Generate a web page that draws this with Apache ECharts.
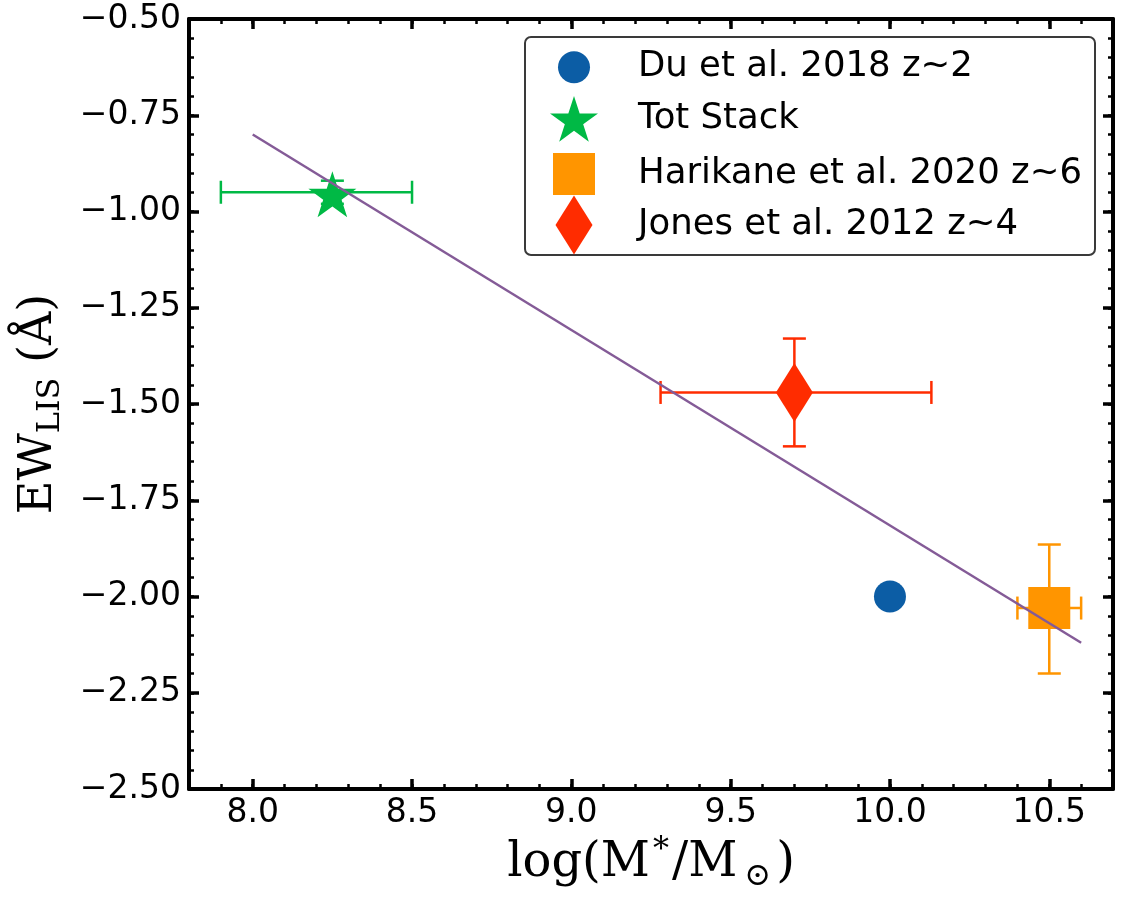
<!DOCTYPE html>
<html><head><meta charset="utf-8">
<script src="https://cdn.jsdelivr.net/npm/echarts@6/dist/echarts.min.js"></script>
<style>html,body{margin:0;padding:0;background:#fff}#c{width:1126px;height:898px}</style>
</head><body><div id="c"></div>
<script>
// ---- data ----
const duX=[10.0], duY=[-2.0];
const totX=[8.25], totY=[-0.95], totXLo=[7.90], totXHi=[8.50], totYLo=[-0.98], totYHi=[-0.92];
const harX=[10.50], harY=[-2.03], harXLo=[10.40], harXHi=[10.60], harYLo=[-2.20], harYHi=[-1.865];
const jonX=[9.70], jonY=[-1.47], jonXLo=[9.28], jonXHi=[10.13], jonYLo=[-1.61], jonYHi=[-1.33];
const fitX=[8.0,10.6], fitY=[-0.80,-2.12];
const seriesNames=['Du et al. 2018 z~2','Tot Stack','Harikane et al. 2020 z~6','Jones et al. 2012 z~4'];
const xMajor=[8.0,8.5,9.0,9.5,10.0,10.5];
const yMajor=[-2.5,-2.25,-2.0,-1.75,-1.5,-1.25,-1.0,-0.75,-0.5];
const xMinor=[7.8,7.9,8.0,8.1,8.2,8.3,8.4,8.5,8.6,8.7,8.8,8.9,9.0,9.1,9.2,9.3,9.4,9.5,9.6,9.7,9.8,9.9,10.0,10.1,10.2,10.3,10.4,10.5,10.6,10.7];
const yMinor=[-2.5,-2.45,-2.4,-2.35,-2.3,-2.25,-2.2,-2.15,-2.1,-2.05,-2.0,-1.95,-1.9,-1.85,-1.8,-1.75,-1.7,-1.65,-1.6,-1.55,-1.5,-1.45,-1.4,-1.35,-1.3,-1.25,-1.2,-1.15,-1.1,-1.05,-1.0,-0.95,-0.9,-0.85,-0.8,-0.75,-0.7,-0.65,-0.6,-0.55,-0.5];
const xRange=[7.8,10.7], yRange=[-2.5,-0.5];

// ---- style ----
const C_BLUE='#0C5DA5', C_GREEN='#00B945', C_ORANGE='#FF9500', C_RED='#FF2C00', C_PURPLE='#845B97';
const STAR='path://M0,-1L0.2245,-0.309L0.9511,-0.309L0.3633,0.118L0.5878,0.809L0,0.382L-0.5878,0.809L-0.3633,0.118L-0.9511,-0.309L-0.2245,-0.309Z';
const CAP=11.5, ELW=2.5;

function pts(xs,ys){return xs.map((x,i)=>[x,ys[i]]);}
function errData(xs,ys,xl,xh,yl,yh){return xs.map((x,i)=>[x,ys[i],xl[i],xh[i],yl[i],yh[i]]);}
function errRender(params, api){
  const x=api.value(0), y=api.value(1);
  const pL=api.coord([api.value(2),y]), pR=api.coord([api.value(3),y]);
  const pB=api.coord([x,api.value(4)]), pT=api.coord([x,api.value(5)]);
  const st={stroke:api.visual('color'), lineWidth:ELW, fill:null};
  const L=(x1,y1,x2,y2)=>({type:'line',shape:{x1,y1,x2,y2},style:st});
  return {type:'group',children:[
    L(pL[0],pL[1],pR[0],pR[1]),
    L(pL[0],pL[1]-CAP,pL[0],pL[1]+CAP),
    L(pR[0],pR[1]-CAP,pR[0],pR[1]+CAP),
    L(pB[0],pB[1],pT[0],pT[1]),
    L(pB[0]-CAP,pB[1],pB[0]+CAP,pB[1]),
    L(pT[0]-CAP,pT[1],pT[0]+CAP,pT[1])
  ]};
}
const fmtX=v=>v.toFixed(1);
const fmtY=v=>(v<0?'\u2212':'')+Math.abs(v).toFixed(2);
const tickFont={fontSize:33,fontFamily:'DejaVu Sans',color:'#000'};
const SERIF='DejaVu Serif';

function mkAxis(range,pos,major,minor,isMajor,withLabels,fmt,extra){
  const a={type:'value',min:range[0],max:range[1],position:pos,splitLine:{show:false},
    axisLine:{show:isMajor,onZero:false,lineStyle:{color:'#000',width:4}},
    axisTick:{show:true,inside:true,length:isMajor?10:5,customValues:isMajor?major:minor,
      lineStyle:{color:'#000',width:isMajor?3.5:2.5}},
    axisLabel:withLabels?Object.assign({show:true,customValues:major,formatter:fmt},tickFont):{show:false}};
  return Object.assign(a,extra||{});
}

const chart=echarts.init(document.getElementById('c'),null,{renderer:'canvas'});
const legendSpec=[
  {name:seriesNames[0],icon:'circle',w:32,h:32,cy:67},
  {name:seriesNames[1],icon:STAR,w:48,h:46,cy:119},
  {name:seriesNames[2],icon:'rect',w:42,h:42,cy:174},
  {name:seriesNames[3],icon:'diamond',w:37,h:59,cy:225}
];
const LEG_CX=574, LEG_TX=638, LEG_FS=35.5;
const legends=legendSpec.map(s=>({
  data:[{name:s.name,icon:s.icon}], orient:'vertical', selectedMode:false, z:6,
  left:LEG_CX-s.w/2, top:s.cy-Math.max(s.h,LEG_FS)/2, padding:0,
  itemWidth:s.w, itemHeight:s.h, itemGap:0,
  textStyle:{fontSize:LEG_FS,fontFamily:'DejaVu Sans',color:'#000',padding:[0,0,0,LEG_TX-(LEG_CX+s.w/2+5)]}
}));

const option={
  animation:false,
  backgroundColor:'#fff',
  grid:{left:189,right:13,top:19,bottom:109,containLabel:false},
  graphic:[{type:'rect',left:524,top:36,z:5,shape:{width:570,height:218,r:6},style:{fill:'#fff',stroke:'#3a3a3a',lineWidth:2}}],
  legend:legends,
  xAxis:[
    mkAxis(xRange,'bottom',xMajor,xMinor,true,true,fmtX,{
      name:'{a|log(M}{sup|*}{a|/M}{sub|\u2299}{a|)}',nameLocation:'middle',nameGap:45,
      nameTextStyle:{fontFamily:SERIF,fontSize:48,color:'#000',rich:{
        a:{fontFamily:SERIF,fontSize:48,lineHeight:58,color:'#000'},
        sup:{fontFamily:SERIF,fontSize:32,lineHeight:32,verticalAlign:'top',color:'#000',padding:[0,3,0,3]},
        sub:{fontFamily:SERIF,fontSize:32,lineHeight:32,verticalAlign:'bottom',color:'#000',padding:[0,5,0,7]}
      }}}),
    mkAxis(xRange,'bottom',xMajor,xMinor,false,false),
    mkAxis(xRange,'top',xMajor,xMinor,true,false),
    mkAxis(xRange,'top',xMajor,xMinor,false,false)
  ],
  yAxis:[
    mkAxis(yRange,'left',yMajor,yMinor,true,true,fmtY,{
      name:'{a|EW}{sub|LIS}{a| (\u00C5)}',nameLocation:'middle',nameGap:122,nameRotate:90,
      nameTextStyle:{fontFamily:SERIF,fontSize:46,color:'#000',rich:{
        a:{fontFamily:SERIF,fontSize:46,lineHeight:56,color:'#000'},
        sub:{fontFamily:SERIF,fontSize:32,lineHeight:32,verticalAlign:'bottom',color:'#000'}
      }}}),
    mkAxis(yRange,'left',yMajor,yMinor,false,false),
    mkAxis(yRange,'right',yMajor,yMinor,true,false),
    mkAxis(yRange,'right',yMajor,yMinor,false,false)
  ],
  series:[
    {type:'custom',name:'err-tot',renderItem:errRender,data:errData(totX,totY,totXLo,totXHi,totYLo,totYHi),itemStyle:{color:C_GREEN},encode:{x:0,y:1},z:2,silent:true},
    {type:'custom',name:'err-har',renderItem:errRender,data:errData(harX,harY,harXLo,harXHi,harYLo,harYHi),itemStyle:{color:C_ORANGE},encode:{x:0,y:1},z:2,silent:true},
    {type:'custom',name:'err-jon',renderItem:errRender,data:errData(jonX,jonY,jonXLo,jonXHi,jonYLo,jonYHi),itemStyle:{color:C_RED},encode:{x:0,y:1},z:2,silent:true},
    {type:'scatter',name:seriesNames[0],data:pts(duX,duY),symbol:'circle',symbolSize:32,itemStyle:{color:C_BLUE,opacity:1},z:3},
    {type:'scatter',name:seriesNames[1],data:pts(totX,totY),symbol:STAR,symbolSize:[48,46],symbolOffset:[0,2],itemStyle:{color:C_GREEN,opacity:1},z:3},
    {type:'scatter',name:seriesNames[2],data:pts(harX,harY),symbol:'rect',symbolSize:42,itemStyle:{color:C_ORANGE,opacity:1},z:3},
    {type:'scatter',name:seriesNames[3],data:pts(jonX,jonY),symbol:'diamond',symbolSize:[37,59],itemStyle:{color:C_RED,opacity:1},z:3},
    {type:'line',name:'fit',data:pts(fitX,fitY),showSymbol:false,symbol:'none',lineStyle:{color:C_PURPLE,width:2.5},itemStyle:{color:C_PURPLE},z:4,silent:true}
  ]
};
chart.setOption(option);
</script></body></html>
